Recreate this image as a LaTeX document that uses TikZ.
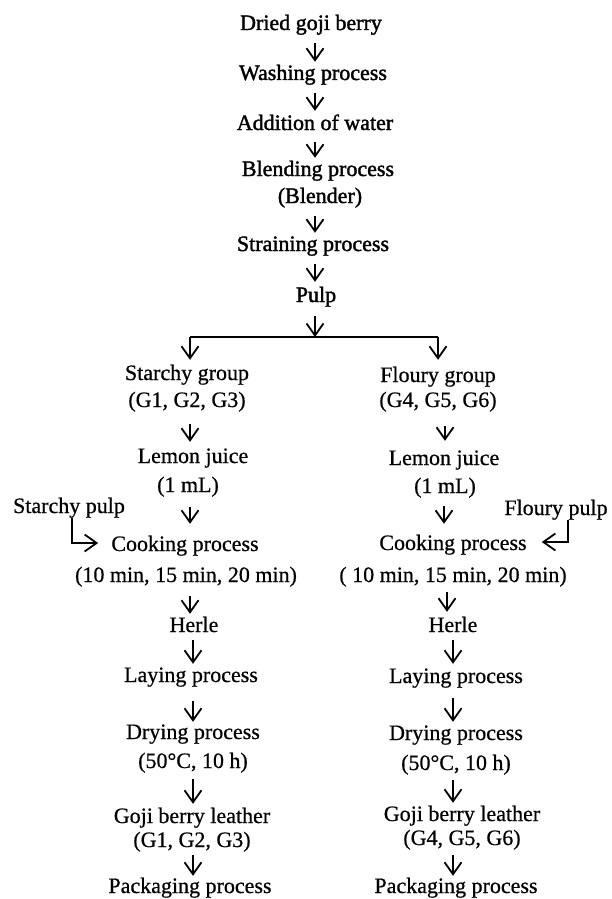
\documentclass[tikz,border=0pt]{standalone}
\usepackage{fontspec}
\setmainfont{Liberation Serif}[FakeBold=0.6]
\newfontfamily\heavy[FakeBold=1.6]{Liberation Serif}
\usetikzlibrary{arrows.meta}
\begin{document}
\begin{tikzpicture}[x=1pt,y=-1pt,
  lbl/.style={anchor=base, inner sep=0pt, font=\fontsize{22}{26}\selectfont, text height=15pt, text depth=5pt},
  toplbl/.style={lbl, font=\fontsize{22}{26}\selectfont\heavy},
  arr/.style={line width=1.8pt, -{Straight Barb[length=12pt,width=17pt,line width=1.8pt]}},
  ln/.style={line width=1.8pt}]
\useasboundingbox (0,0) rectangle (611,899);
\fill[white] (0,0) rectangle (611,899);
% top chain
\node[toplbl] (n1) at (311,30) {Dried goji berry};
\node[toplbl] (n2) at (313,80) {Washing process};
\node[toplbl] (n3) at (315,130) {Addition of water};
\node[toplbl] (n4) at (318,176) {Blending process};
\node[toplbl] (n5) at (320,203) {(Blender)};
\node[toplbl] (n6) at (313,251) {Straining process};
\node[toplbl] (n7) at (316,302) {Pulp};
\coordinate (cx) at (315,0);
\draw[arr, shorten <=8pt, shorten >=3pt] (n1.south -| cx) -- (n2.north -| cx);
\draw[arr, shorten <=8pt, shorten >=4pt] (n2.south -| cx) -- (n3.north -| cx);
\draw[arr, shorten <=7pt, shorten >=3pt] (n3.south -| cx) -- (n4.north -| cx);
\draw[arr, shorten <=8pt, shorten >=3pt] (n5.south -| cx) -- (n6.north -| cx);
\draw[arr, shorten <=8pt, shorten >=5pt] (n6.south -| cx) -- (n7.north -| cx);
% branch
\coordinate (jm) at (315,337);
\coordinate (jl) at (190,337);
\coordinate (jr) at (438,337);
\draw[arr, shorten <=9pt] (n7.south -| cx) -- (jm);
\draw[ln] (jl) -- (jr);
% left column
\node[lbl] (s1) at (187,380) {Starchy group};
\node[lbl] (s2) at (187,407) {(G1, G2, G3)};
\node[lbl] (s3) at (193,463) {Lemon juice};
\node[lbl] (s4) at (188,492) {(1 mL)};
\node[lbl] (s5) at (185,551) {Cooking process};
\node[lbl] (s6) at (186,582) {(10 min, 15 min, 20 min)};
\node[lbl] (s7) at (194,632) {Herle};
\node[lbl] (s8) at (191,682) {Laying process};
\node[lbl] (s9) at (193,739) {Drying process};
\node[lbl] (s10) at (193,768) {(50°C, 10 h)};
\node[lbl] (s11) at (192,823) {Goji berry leather};
\node[lbl] (s12) at (192,847) {(G1, G2, G3)};
\node[lbl] (s13) at (190,893) {Packaging process};
\coordinate (la) at (190,0);
\coordinate (lb) at (193,0);
\draw[arr, shorten >=5pt] (jl) -- (s1.north -| jl);
\draw[arr, shorten <=12pt, shorten >=6pt] (s2.south -| la) -- (s3.north -| la);
\draw[arr, shorten <=10pt, shorten >=12pt] (s4.south -| la) -- (s5.north -| la);
\draw[arr, shorten <=9pt, shorten >=3pt] (s6.south -| la) -- (s7.north -| la);
\draw[arr, shorten <=3pt, shorten >=3pt] (s7.south -| lb) -- (s8.north -| lb);
\draw[arr, shorten <=14pt, shorten >=2pt] (s8.south -| lb) -- (s9.north -| lb);
\draw[arr, shorten <=6pt, shorten >=4pt] (s10.south -| lb) -- (s11.north -| lb);
\draw[arr, shorten <=3pt, shorten >=2pt] (s12.south -| lb) -- (s13.north -| lb);
% right column
\node[lbl] (f1) at (438,382) {Floury group};
\node[lbl] (f2) at (438,407) {(G4, G5, G6)};
\node[lbl] (f3) at (444,465) {Lemon juice};
\node[lbl] (f4) at (445,493) {(1 mL)};
\node[lbl] (f5) at (453,550) {Cooking process};
\node[lbl] (f6) at (453,582) {( 10 min, 15 min, 20 min)};
\node[lbl] (f7) at (453,632) {Herle};
\node[lbl] (f8) at (456,683) {Laying process};
\node[lbl] (f9) at (456,740) {Drying process};
\node[lbl] (f10) at (456,770) {(50°C, 10 h)};
\node[lbl] (f11) at (462,821) {Goji berry leather};
\node[lbl] (f12) at (462,845) {(G4, G5, G6)};
\node[lbl] (f13) at (456,893) {Packaging process};
\coordinate (ra) at (445,0);
\coordinate (rb) at (444,0);
\coordinate (rc) at (447,0);
\coordinate (rd) at (453,0);
\draw[arr, shorten >=7pt] (jr) -- (f1.north -| jr);
\draw[arr, shorten <=14pt, shorten >=9pt] (f2.south -| ra) -- (f3.north -| ra);
\draw[arr, shorten <=8pt, shorten >=11pt] (f4.south -| rb) -- (f5.north -| rb);
\draw[arr, shorten <=5pt, shorten >=5pt] (f6.south -| rc) -- (f7.north -| rc);
\draw[arr, shorten <=3pt, shorten >=4pt] (f7.south -| rd) -- (f8.north -| rd);
\draw[arr, shorten <=10pt, shorten >=3pt] (f8.south -| rd) -- (f9.north -| rd);
\draw[arr, shorten <=5pt, shorten >=3pt] (f10.south -| rd) -- (f11.north -| rd);
\draw[arr, shorten <=5pt, shorten >=2pt] (f12.south -| rd) -- (f13.north -| rd);
% side inputs
\node[lbl] (sp) at (69,513) {Starchy pulp};
\coordinate (spx) at (72,0);
\draw[arr, shorten >=13pt] (sp.south -| spx) |- ([yshift=3pt]s5.west);
\node[lbl] (fp) at (556,515) {Floury pulp};
\coordinate (fpx) at (568,0);
\draw[arr, shorten >=15pt] (fp.south -| fpx) |- ([yshift=3pt]f5.east);
\end{tikzpicture}
\end{document}
